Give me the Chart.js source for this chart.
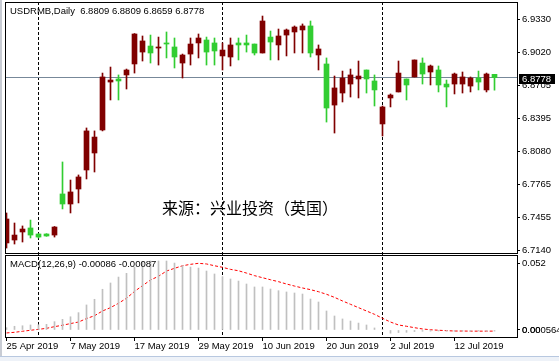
<!DOCTYPE html>
<html>
<head>
<meta charset="utf-8">
<script src="https://cdn.jsdelivr.net/npm/chart.js@4.4.1/dist/chart.umd.min.js"></script>
<style>
  html, body { margin: 0; padding: 0; background: #fff; }
  #wrap { position: relative; width: 559px; height: 361px; overflow: hidden; background: #fff; }
  canvas { position: absolute; left: 0; top: 0; }
  .lbl { position: absolute; font-family: 'Liberation Sans', Arial, sans-serif; font-size: 9.5px; line-height: 12px; color: #000; white-space: pre; }
  #wm { position: absolute; left: 162px; top: 198px; font-family: 'Noto Sans CJK SC', sans-serif; font-size: 16px; line-height: 18px; color: #000; white-space: pre; }
  #frameL { position: absolute; left: 0; top: 0; width: 2px; height: 361px; background: #c8ccd4; }
  #frameB { position: absolute; left: 0; top: 356px; width: 559px; height: 5px; background: #eef2f8; border-top: 1px solid #b8c8e0; }
</style>
</head>
<body>
<div id="wrap">
  <canvas id="c" width="559" height="361"></canvas>
  <div id="frameL"></div>
  <div id="frameB"></div>
  <div class="lbl" style="left:10px;top:5px">USDRMB,Daily  6.8809 6.8809 6.8659 6.8778</div>
  <div class="lbl" style="left:10px;top:258px">MACD(12,26,9) -0.00086 -0.00087</div>
  <div id="wm">来源：兴业投资（英国）</div>
</div>
<script>
// daily bars, 25 Apr 2019 .. 19 Jul 2019
const OPEN = [6.7439, 6.7287, 6.7344, 6.7287, 6.7268, 6.7278, 6.7363, 6.7581, 6.7695, 6.7837,
  6.8273, 6.8215, 6.8784, 6.8755, 6.8746, 6.8850, 6.9191, 6.9125, 6.9011, 6.9068,
  6.9096, 6.8973, 6.8992, 6.9096, 6.9153, 6.9020, 6.9030, 6.9039, 6.9087, 6.9087,
  6.9087, 6.9011, 6.9314, 6.9115, 6.9172, 6.9229, 6.9257, 6.9267, 6.9011, 6.9049,
  6.8490, 6.8680, 6.8774, 6.8803, 6.8793, 6.8765, 6.8661, 6.8500, 6.8613, 6.8821,
  6.8708, 6.8945, 6.8812, 6.8888, 6.8708, 6.8689, 6.8812, 6.8784, 6.8774, 6.8736,
  6.8812, 6.8778];
const HIGH = [6.7496, 6.7401, 6.7373, 6.7429, 6.7300, 6.7300, 6.7368, 6.7979, 6.7808, 6.7856,
  6.8301, 6.8273, 6.8821, 6.8878, 6.8803, 6.8859, 6.9195, 6.9172, 6.9181, 6.9162,
  6.9210, 6.9153, 6.9001, 6.9153, 6.9191, 6.9162, 6.9153, 6.9106, 6.9153, 6.9153,
  6.9181, 6.9096, 6.9361, 6.9219, 6.9238, 6.9238, 6.9267, 6.9286, 6.9314, 6.9087,
  6.8964, 6.8793, 6.8840, 6.8859, 6.8935, 6.8850, 6.8803, 6.8509, 6.8623, 6.8935,
  6.8765, 6.8945, 6.8964, 6.8897, 6.8888, 6.8755, 6.8821, 6.8831, 6.8784, 6.8840,
  6.8821, 6.8809];
const LOW = [6.7164, 6.7202, 6.7221, 6.7259, 6.7259, 6.7275, 6.7268, 6.7534, 6.7496, 6.7591,
  6.7818, 6.7884, 6.8273, 6.8566, 6.8566, 6.8670, 6.8821, 6.8935, 6.8916, 6.8897,
  6.8964, 6.8869, 6.8774, 6.8897, 6.8964, 6.8897, 6.8897, 6.8850, 6.8888, 6.8945,
  6.9020, 6.8992, 6.9011, 6.8945, 6.8945, 6.8983, 6.9011, 6.9011, 6.8973, 6.8850,
  6.8357, 6.8253, 6.8547, 6.8594, 6.8585, 6.8632, 6.8509, 6.8225, 6.8500, 6.8642,
  6.8566, 6.8784, 6.8717, 6.8708, 6.8642, 6.8500, 6.8623, 6.8632, 6.8642, 6.8661,
  6.8642, 6.8659];
const CLOSE = [6.7212, 6.7240, 6.7316, 6.7354, 6.7297, 6.7297, 6.7287, 6.7676, 6.7581, 6.7723,
  6.7903, 6.8064, 6.8282, 6.8736, 6.8765, 6.8803, 6.8907, 6.9020, 6.9077, 6.9058,
  6.9106, 6.9068, 6.8916, 6.9001, 6.9106, 6.9134, 6.9106, 6.8983, 6.8973, 6.9106,
  6.9106, 6.9096, 6.9011, 6.9162, 6.9087, 6.9181, 6.9210, 6.9229, 6.9267, 6.8992,
  6.8907, 6.8518, 6.8632, 6.8717, 6.8765, 6.8850, 6.8746, 6.8339, 6.8585, 6.8642,
  6.8765, 6.8784, 6.8916, 6.8831, 6.8850, 6.8717, 6.8717, 6.8717, 6.8698, 6.8774,
  6.8661, 6.8809];

// MACD(12,26,9): main line (histogram) and signal line
const MACD_MAIN = [0.0018, 0.0029, 0.0033, 0.0039, 0.0041, 0.0044, 0.0065, 0.0083, 0.0103, 0.0135,
  0.0195, 0.0239, 0.0317, 0.0366, 0.0412, 0.0441, 0.0490, 0.0531, 0.0537, 0.0537,
  0.0537, 0.0521, 0.0500, 0.0490, 0.0482, 0.0459, 0.0436, 0.0415, 0.0397, 0.0381,
  0.0358, 0.0335, 0.0335, 0.0319, 0.0306, 0.0296, 0.0288, 0.0280, 0.0241, 0.0218,
  0.0148, 0.0109, 0.0086, 0.0070, 0.0054, 0.0039, 0.0016, 0.0002, -0.0025, -0.0020,
  -0.0018, -0.0012, -0.0010, -0.0009, -0.0008, -0.0009, -0.0010, -0.0009, -0.0009, -0.0008,
  -0.0009, -0.00086];
const MACD_SIGNAL = [-0.0023, -0.0018, -0.0010, -0.0002, 0.0005, 0.0013, 0.0026, 0.0037, 0.0050, 0.0062,
  0.0089, 0.0111, 0.0148, 0.0174, 0.0208, 0.0247, 0.0300, 0.0345, 0.0389, 0.0418,
  0.0459, 0.0480, 0.0500, 0.0511, 0.0519, 0.0514, 0.0500, 0.0488, 0.0472, 0.0461,
  0.0443, 0.0423, 0.0407, 0.0391, 0.0376, 0.0358, 0.0342, 0.0327, 0.0314, 0.0298,
  0.0278, 0.0254, 0.0226, 0.0200, 0.0174, 0.0148, 0.0122, 0.0091, 0.0062, 0.0039,
  0.0029, 0.0018, 0.0008, 0.0002, -0.0002, -0.0005, -0.0008, -0.0008, -0.0009, -0.0009,
  -0.0009, -0.00087];

const TICK_BARS = [0, 8, 16, 24, 32, 40, 48, 56];
const TICK_LABELS = ['25 Apr 2019', '7 May 2019', '17 May 2019', '29 May 2019', '10 Jun 2019', '20 Jun 2019', '2 Jul 2019', '12 Jul 2019'];
const SEPARATOR_BARS = [4, 27, 47]; // 1 May, 3 Jun, 1 Jul
const PRICE_TICKS = [6.7140, 6.7455, 6.7765, 6.8080, 6.8395, 6.8705, 6.9020, 6.9330];
const MACD_TICKS = [0.052, 0, 0];
const MACD_TICK_LABELS = ['0.052', '0.00', '0.000564'];
const LAST_PRICE = 6.8778;

const BULL = '#32CD32';
const BEAR = '#800000';
const FONT = { family: '"Liberation Sans", Arial, sans-serif', size: 9.5 };

const candleColor = OPEN.map((o, i) => CLOSE[i] >= o ? BULL : BEAR);

// pane frames, period separators, bid line
const paneDecor = {
  id: 'paneDecor',
  beforeDatasetsDraw(chart) {
    const { ctx, chartArea, scales } = chart;
    ctx.save();
    ctx.lineWidth = 1;
    ctx.strokeStyle = '#000';
    ctx.setLineDash([3, 2]);
    SEPARATOR_BARS.forEach(i => {
      const px = Math.round(scales.x.getPixelForValue(i) - 0.5) + 0.5;
      ctx.beginPath();
      ctx.moveTo(px, chartArea.top);
      ctx.lineTo(px, chartArea.bottom);
      ctx.stroke();
    });
    ctx.setLineDash([]);
    const py = Math.round(scales.main.getPixelForValue(LAST_PRICE) - 0.5) + 0.5;
    ctx.strokeStyle = '#778899';
    ctx.beginPath();
    ctx.moveTo(chartArea.left, py);
    ctx.lineTo(chartArea.right, py);
    ctx.stroke();
    ctx.restore();
  },
  afterDraw(chart) {
    const { ctx, chartArea, scales } = chart;
    const m = scales.main, d = scales.macd;
    ctx.save();
    ctx.strokeStyle = '#000';
    ctx.lineWidth = 1;
    const l = chartArea.left + 0.5, r = chartArea.right + 0.5;
    ctx.strokeRect(l, m.top + 0.5, r - l, (m.bottom - 1.5) - (m.top + 0.5));
    ctx.strokeRect(l, d.top + 0.5, r - l, (d.bottom - 0.5) - (d.top + 0.5));
    // last price tag
    const py = Math.round(m.getPixelForValue(LAST_PRICE) - 0.5) + 0.5;
    ctx.fillStyle = '#000';
    ctx.fillRect(chartArea.right + 2, py - 3.5, 36, 10);
    ctx.fillStyle = '#fff';
    ctx.font = '9.5px "Liberation Sans", Arial, sans-serif';
    ctx.textBaseline = 'middle';
    ctx.textAlign = 'left';
    ctx.fillText(LAST_PRICE.toFixed(4), chartArea.right + 5, py + 1.5);
    ctx.restore();
  }
};

new Chart(document.getElementById('c'), {
  type: 'bar',
  data: {
    datasets: [
      {
        label: 'wick',
        data: LOW.map((l, i) => ({ x: i, y: [l, HIGH[i]] })),
        yAxisID: 'main',
        backgroundColor: candleColor,
        barThickness: 1,
        grouped: false,
        borderWidth: 0
      },
      {
        label: 'body',
        data: OPEN.map((o, i) => ({ x: i, y: [Math.min(o, CLOSE[i]), Math.max(o, CLOSE[i])] })),
        yAxisID: 'main',
        backgroundColor: candleColor,
        barThickness: 5,
        minBarLength: 1,
        grouped: false,
        borderWidth: 0
      },
      {
        label: 'MACD',
        data: MACD_MAIN.map((v, i) => ({ x: i, y: v })),
        yAxisID: 'macd',
        backgroundColor: '#C0C0C0',
        barThickness: 1,
        grouped: false,
        borderWidth: 0
      },
      {
        type: 'line',
        label: 'Signal',
        data: MACD_SIGNAL.map((v, i) => ({ x: i, y: v })),
        yAxisID: 'macd',
        borderColor: '#FF0000',
        borderWidth: 1,
        borderDash: [3, 2],
        pointRadius: 0,
        fill: false,
        tension: 0
      }
    ]
  },
  options: {
    responsive: false,
    devicePixelRatio: 1,
    animation: false,
    events: [],
    layout: { padding: { left: 5, top: 2, right: 0, bottom: 0 } },
    plugins: { legend: { display: false }, tooltip: { enabled: false } },
    scales: {
      x: {
        type: 'linear',
        position: 'bottom',
        offset: false,
        min: -0.1875,
        max: 63.8125,
        afterBuildTicks: s => { s.ticks = TICK_BARS.map(v => ({ value: v })); },
        afterFit: s => { s.height = 23; s.paddingLeft = 0; s.paddingRight = 0; },
        grid: { offset: false, drawOnChartArea: false, drawTicks: true, tickLength: 3, color: '#000' },
        border: { display: false },
        ticks: {
          autoSkip: false, maxRotation: 0, align: 'start', padding: 0,
          color: '#000', font: FONT,
          callback: (v, i) => TICK_LABELS[i]
        }
      },
      main: {
        axis: 'y',
        type: 'linear',
        position: 'right',
        stack: 'panes',
        stackWeight: 253,
        min: 6.70980,
        max: 6.94939,
        afterBuildTicks: s => { s.ticks = PRICE_TICKS.map(v => ({ value: v })); },
        afterFit: s => { s.width = 42; s.paddingTop = 0; s.paddingBottom = 0; },
        grid: { drawOnChartArea: false, drawTicks: true, tickLength: 3, color: '#000' },
        border: { display: false },
        ticks: { autoSkip: false, padding: 2, color: '#000', font: FONT, callback: v => v.toFixed(4) }
      },
      macd: {
        axis: 'y',
        type: 'linear',
        position: 'right',
        stack: 'panes',
        stackWeight: 83,
        min: -0.00623,
        max: 0.05837,
        afterBuildTicks: s => { s.ticks = MACD_TICKS.map(v => ({ value: v })); },
        afterFit: s => { s.width = 42; s.paddingTop = 0; s.paddingBottom = 0; },
        grid: { drawOnChartArea: false, drawTicks: true, tickLength: 3, color: '#000' },
        border: { display: false },
        ticks: { autoSkip: false, padding: 2, color: '#000', font: FONT, callback: (v, i) => MACD_TICK_LABELS[i] }
      }
    }
  },
  plugins: [paneDecor]
});
</script>
</body>
</html>
